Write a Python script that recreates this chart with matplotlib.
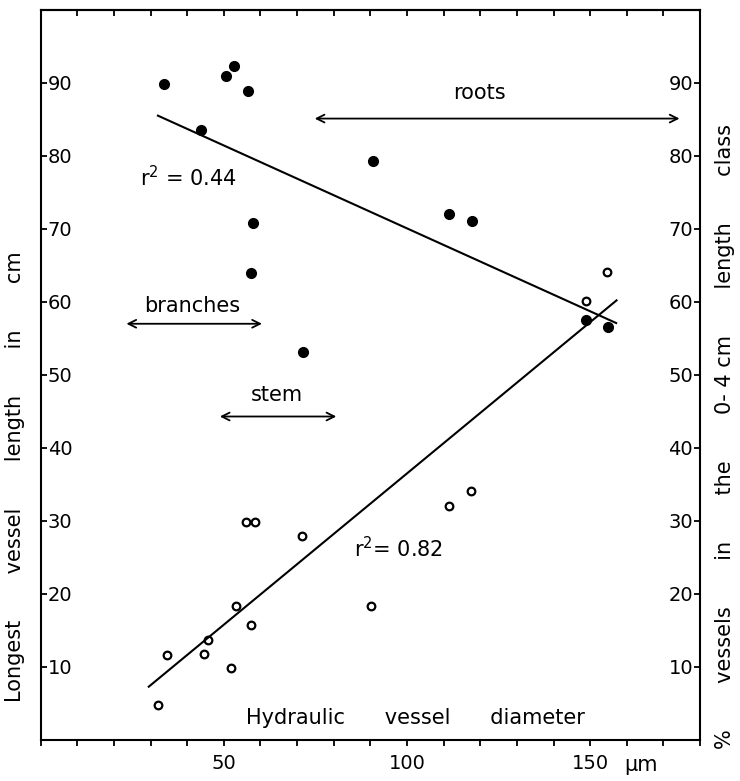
import matplotlib.pyplot as plt
import numpy as np

# longest vessel length (filled dots)
len_x = [33.6, 43.7, 50.5, 52.7, 56.7, 58.0, 57.5, 71.6, 90.6, 111.6, 117.7, 148.9, 154.8]
len_y = [89.8, 83.5, 90.9, 92.3, 88.9, 70.8, 63.9, 53.2, 79.3, 72.0, 71.1, 57.5, 56.5]

# % vessels in 0-4 cm class (open circles)
pct_x = [31.9, 34.4, 44.5, 45.7, 51.9, 53.4, 57.3, 56.0, 58.5, 71.3, 90.3, 111.4, 117.4, 148.9, 154.6]
pct_y = [4.8, 11.7, 11.8, 13.7, 9.9, 18.3, 15.8, 29.9, 29.9, 28.0, 18.4, 32.1, 34.1, 60.1, 64.1]

# regression lines (end points)
fit_len_x = [32.0, 157.1]
fit_len_y = [85.5, 57.1]
fit_pct_x = [29.5, 157.2]
fit_pct_y = [7.3, 60.2]

yticks = [10, 20, 30, 40, 50, 60, 70, 80, 90]
xticks = [50, 100, 150]

plt.rcParams['font.family'] = ['DejaVu Sans']
fig = plt.figure(figsize=(7.4, 7.81), dpi=100)
ax = fig.add_axes([0.055, 0.0525, 0.891, 0.935])

ax.plot(len_x, len_y, 'o', color='black', markersize=7)
ax.plot(pct_x, pct_y, 'o', markerfacecolor='white', markeredgecolor='black',
        markersize=5.5, markeredgewidth=1.6)
ax.plot(fit_len_x, fit_len_y, color='black', lw=1.5)
ax.plot(fit_pct_x, fit_pct_y, color='black', lw=1.5)

arrow = dict(arrowstyle='<->', lw=1.3, color='black', mutation_scale=14, shrinkA=0, shrinkB=0)
ax.annotate('', xy=(174.4, 85.1), xytext=(74.8, 85.1), arrowprops=arrow)
ax.annotate('', xy=(60.4, 57.0), xytext=(23.4, 57.0), arrowprops=arrow)
ax.annotate('', xy=(80.7, 44.3), xytext=(48.9, 44.3), arrowprops=arrow)

fs = 15
ax.text(119.8, 88.6, 'roots', ha='center', va='center', fontsize=fs)
ax.text(41.4, 59.5, 'branches', ha='center', va='center', fontsize=fs)
ax.text(64.5, 47.3, 'stem', ha='center', va='center', fontsize=fs)
ax.text(40.2, 77.0, r'r$^2$ = 0.44', ha='center', va='center', fontsize=fs)
ax.text(97.5, 26.2, r'r$^2$= 0.82', ha='center', va='center', fontsize=fs)
ax.text(102.4, 3.0, 'Hydraulic      vessel      diameter', ha='center', va='center', fontsize=fs)
ax.text(164.0, -0.034, 'µm', ha='center', va='center', fontsize=fs,
        transform=ax.get_xaxis_transform())

ax.set_xlim(0, 180)
ax.set_ylim(0, 100)
ax.set_xticks(xticks)
ax.set_xticks(np.arange(0, 181, 10), minor=True)
ax.set_yticks(yticks)
ax.set_yticklabels([str(v) for v in yticks])

ax.tick_params(axis='x', which='both', direction='out', length=4, width=1.3,
               labelsize=14, pad=6)
ax.tick_params(axis='y', direction='in', length=4, width=1.3, right=True,
               labelright=True, labelsize=14, pad=-5)
for t in ax.yaxis.get_major_ticks():
    t.label1.set_horizontalalignment('left')
    t.label2.set_horizontalalignment('right')

# top ticks point into the plot
top = ax.secondary_xaxis('top')
top.set_xticks(np.arange(0, 181, 10))
top.tick_params(direction='in', length=4, width=1.3, labeltop=False)

for s in ax.spines.values():
    s.set_linewidth(1.5)
top.spines['top'].set_linewidth(1.5)

ax.text(-0.039, 0.36, 'Longest       vessel       length       in       cm', rotation=90,
        ha='center', va='center', fontsize=fs, transform=ax.transAxes)
ax.text(1.038, 0.415, '%       vessels       in       the       0- 4 cm       length       class',
        rotation=90, ha='center', va='center', fontsize=fs, transform=ax.transAxes)

fig.savefig('out.png', dpi=100)
